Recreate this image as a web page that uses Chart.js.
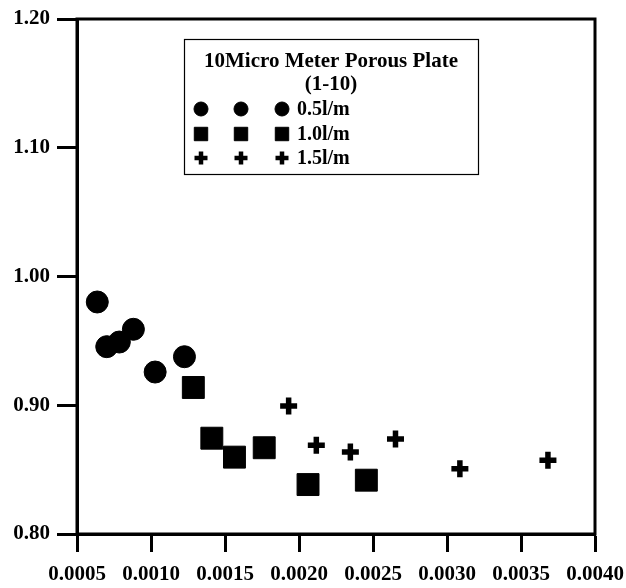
<!DOCTYPE html>
<html><head><meta charset="utf-8">
<script src="https://cdn.jsdelivr.net/npm/chart.js@4/dist/chart.umd.min.js"></script>
<style>html,body{margin:0;padding:0;background:#fff}#wrap{width:626px;height:588px;position:relative}</style>
</head><body><div id="wrap"><canvas id="c" width="626" height="588"></canvas></div>
<script>
const seriesNames = ['0.5l/m', '1.0l/m', '1.5l/m'];
const flow05X = [0.000637, 0.000701, 0.000786, 0.000881, 0.001028, 0.001226];
const flow05Y = [0.9802, 0.9455, 0.9491, 0.9590, 0.9258, 0.9377];
const flow10X = [0.001286, 0.001411, 0.001564, 0.001765, 0.002061, 0.002455];
const flow10Y = [0.9138, 0.8744, 0.8597, 0.8670, 0.8384, 0.8418];
const flow15X = [0.00193, 0.002117, 0.002347, 0.002652, 0.003087, 0.003682];
const flow15Y = [0.8994, 0.8689, 0.8637, 0.8738, 0.8507, 0.8572];
const legendTitle = ['10Micro Meter Porous Plate', '(1-10)'];
const xMin = 0.0005, xMax = 0.0040, xStep = 0.0005;
const yMin = 0.80, yMax = 1.20, yStep = 0.10;

const FONT = '"Liberation Serif", "Times New Roman", serif';
const pts = (xs, ys) => xs.map((x, i) => ({x: x, y: ys[i]}));

const datasets = [
  {label: seriesNames[0], data: pts(flow05X, flow05Y), pointStyle: 'circle', pointRadius: 11, legendRadius: 7, legendBorder: 1},
  {label: seriesNames[1], data: pts(flow10X, flow10Y), pointStyle: 'rect', pointRadius: 15.5, legendRadius: 9.5, legendBorder: 1},
  {label: seriesNames[2], data: pts(flow15X, flow15Y), pointStyle: 'cross', pointRadius: 8.5, pointBorderWidth: 5.5, legendRadius: 6.5, legendBorder: 4.5}
].map(d => Object.assign({
  backgroundColor: '#000', borderColor: '#000', pointBackgroundColor: '#000', pointBorderColor: '#000',
  pointBorderWidth: d.pointBorderWidth || 1, showLine: false
}, d));

const frame = {
  id: 'frame',
  afterDraw(chart) {
    const {ctx, chartArea: a} = chart;
    ctx.save();
    ctx.strokeStyle = '#000';
    ctx.lineWidth = 3;
    ctx.strokeRect(a.left, a.top, a.right - a.left, a.bottom - a.top);
    // legend box
    const bx = 184, by = 39, bw = 294, bh = 135;
    ctx.fillStyle = '#fff';
    ctx.fillRect(bx, by, bw, bh);
    ctx.lineWidth = 1.2;
    ctx.strokeRect(bx + 0.5, by + 0.5, bw, bh);
    ctx.fillStyle = '#000';
    ctx.textAlign = 'center';
    ctx.textBaseline = 'middle';
    ctx.font = 'bold 21px ' + FONT;
    ctx.fillText(legendTitle[0], bx + bw / 2, 62);
    ctx.fillText(legendTitle[1], bx + bw / 2, 85);
    const rows = [109, 134, 158];
    const cols = [201, 241, 282];
    ctx.textAlign = 'left';
    ctx.font = 'bold 20px ' + FONT;
    chart.data.datasets.forEach((ds, i) => {
      cols.forEach(cx => {
        ctx.save();
        ctx.fillStyle = '#000'; ctx.strokeStyle = '#000';
        ctx.lineWidth = ds.legendBorder;
        Chart.helpers.drawPoint(ctx, {pointStyle: ds.pointStyle, radius: ds.legendRadius, rotation: 0, borderWidth: ds.legendBorder}, cx, rows[i]);
        ctx.restore();
      });
      ctx.fillText(ds.label, 297, rows[i] + 1);
    });
    ctx.restore();
  }
};

new Chart(document.getElementById('c'), {
  type: 'scatter',
  data: {datasets: datasets},
  options: {
    responsive: false, animation: false, devicePixelRatio: 1,
    layout: {padding: {left: 0, top: 19, right: 31, bottom: 0}},
    plugins: {legend: {display: false}, tooltip: {enabled: false}},
    scales: {
      x: {
        type: 'linear', min: xMin, max: xMax,
        afterFit(s) { s.height = 54; s.paddingLeft = 0; s.paddingRight = 0; },
        border: {display: true, color: '#000', width: 3},
        grid: {drawOnChartArea: false, drawTicks: true, tickLength: 18, tickWidth: 3, tickColor: '#000', color: '#000'},
        ticks: {stepSize: xStep, color: '#000', padding: 10, maxRotation: 0, autoSkip: false,
          font: {family: FONT, size: 21, weight: 'bold'},
          callback: v => Number(v).toFixed(4)}
      },
      y: {
        type: 'linear', min: yMin, max: yMax,
        afterFit(s) { s.width = 77; s.paddingTop = 0; s.paddingBottom = 0; },
        border: {display: true, color: '#000', width: 3},
        grid: {drawOnChartArea: false, drawTicks: true, tickLength: 20, tickWidth: 3, tickColor: '#000', color: '#000'},
        ticks: {stepSize: yStep, color: '#000', padding: 7,
          font: {family: FONT, size: 21, weight: 'bold'},
          callback: v => Number(v).toFixed(2)}
      }
    }
  },
  plugins: [frame]
});
</script></body></html>
